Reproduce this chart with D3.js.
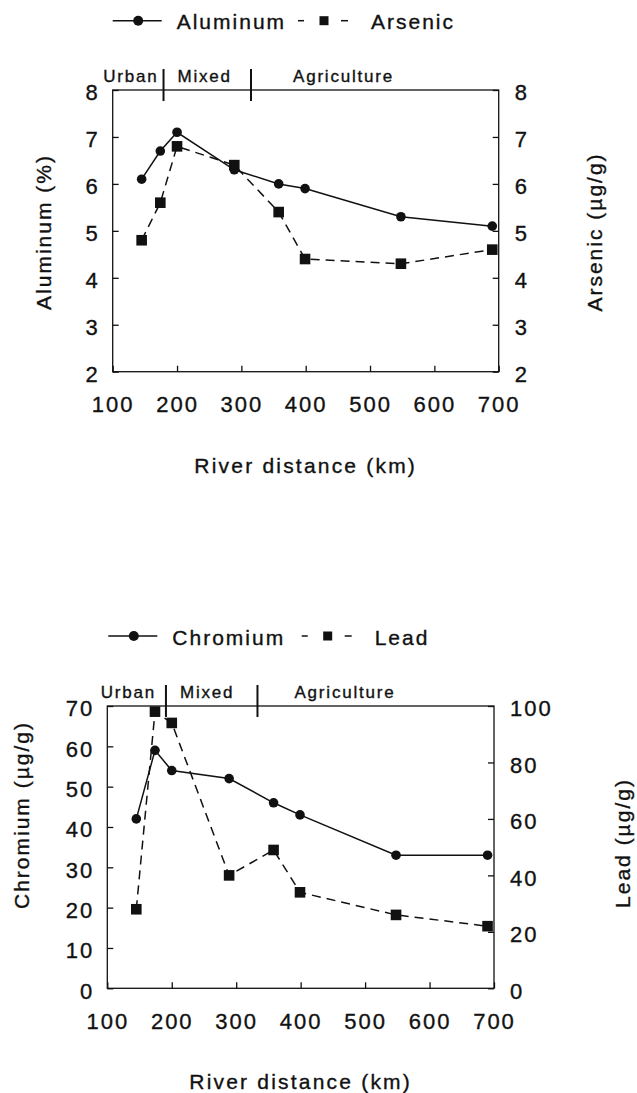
<!DOCTYPE html>
<html>
<head>
<meta charset="utf-8">
<script src="https://cdn.jsdelivr.net/npm/d3@7"></script>
<style>
  body { margin: 0; background: #fff; }
  text { font-family: "Liberation Sans", Arial, sans-serif; fill: #111; stroke: #111; stroke-width: 0.35px; }
</style>
</head>
<body>
<div id="chart"></div>
<script>
// values
var distance = [145, 174, 200, 289, 358, 399, 548, 690];
var aluminum = [6.1, 6.7, 7.1, 6.3, 6.0, 5.9, 5.3, 5.1];
var arsenic  = [4.8, 5.6, 6.8, 6.4, 5.4, 4.4, 4.3, 4.6];
var chromium = [42, 59, 54, 52, 46, 43, 33, 33];
var lead     = [28, 98, 94, 40, 49, 34, 26, 22];

var xTicks  = [100, 200, 300, 400, 500, 600, 700];
var alTicks = [2, 3, 4, 5, 6, 7, 8];
var asTicks = [2, 3, 4, 5, 6, 7, 8];
var crTicks = [0, 10, 20, 30, 40, 50, 60, 70];
var pbTicks = [0, 20, 40, 60, 80, 100];

var zones = ["Urban", "Mixed", "Agriculture"];
var zoneBreaksTop = [179, 315];
var zoneBreaksBottom = [191, 333];

var svg = d3.select("#chart")
  .append("svg")
    .attr("width", 637)
    .attr("height", 1093);

// one panel = box, two y axes, two series, legend and land use zones
function drawPanel(p) {
    var x = d3.scaleLinear().domain([100, 700]).range([p.left, p.right]);
    var yL = d3.scaleLinear().domain(p.leftDomain).range([p.bottom, p.top]);
    var yR = d3.scaleLinear().domain(p.rightDomain).range([p.bottom, p.top]);
    var fmt = d3.format("d");

    var g = svg.append("g");

    // axes, ticks point inward
    var ax = g.append("g")
        .attr("transform", "translate(0," + p.bottom + ")")
        .call(d3.axisBottom(x).tickValues(xTicks).tickFormat(fmt).tickSizeInner(-6).tickSizeOuter(0).tickPadding(25));
    var al = g.append("g")
        .attr("transform", "translate(" + p.left + ",0)")
        .call(d3.axisLeft(yL).tickValues(p.leftTicks).tickFormat(fmt).tickSizeInner(-6).tickSizeOuter(0).tickPadding(13));
    var ar = g.append("g")
        .attr("transform", "translate(" + p.right + ",0)")
        .call(d3.axisRight(yR).tickValues(p.rightTicks).tickFormat(fmt).tickSizeInner(-6).tickSizeOuter(0).tickPadding(16));

    [ax, al, ar].forEach(function(a) {
        a.select(".domain").remove();
        a.selectAll("line").attr("stroke", "#111").attr("stroke-width", 1.3);
        a.selectAll("text")
            .attr("fill", "#111")
            .style("font-size", "22px")
            .style("letter-spacing", "2px")
            .style("font-family", "'Liberation Sans', Arial, sans-serif");
    });
    al.selectAll("text").attr("dy", "0.45em");
    ar.selectAll("text").attr("dy", "0.45em");

    // frame
    g.append("rect")
        .attr("x", p.left).attr("y", p.top)
        .attr("width", p.right - p.left).attr("height", p.bottom - p.top)
        .attr("fill", "none").attr("stroke", "#111").attr("stroke-width", 1.3);

    // zone dividers and labels
    p.breaks.forEach(function(b) {
        g.append("line")
            .attr("x1", x(b)).attr("x2", x(b))
            .attr("y1", p.top - 21).attr("y2", p.top + 11)
            .attr("stroke", "#111").attr("stroke-width", 2);
    });
    var zoneX = [x(p.breaks[0]) - p.zoneOff[0], x(p.breaks[0]) + p.zoneOff[1], x(p.breaks[1]) + p.zoneOff[2]];
    zones.forEach(function(z, i) {
        g.append("text")
            .attr("x", zoneX[i])
            .attr("y", p.top - 8.5)
            .attr("text-anchor", i == 0 ? "end" : "start")
            .style("font-size", "17px")
            .style("letter-spacing", "1.8px")
            .text(z);
    });

    // lines
    var lineL = d3.line().x(function(d, i) { return x(distance[i]); }).y(function(d) { return yL(d); });
    var lineR = d3.line().x(function(d, i) { return x(distance[i]); }).y(function(d) { return yR(d); });

    g.append("path")
        .datum(p.rightSeries)
        .attr("d", lineR)
        .attr("fill", "none").attr("stroke", "#111").attr("stroke-width", 1.5)
        .attr("stroke-dasharray", "9,6");
    g.append("path")
        .datum(p.leftSeries)
        .attr("d", lineL)
        .attr("fill", "none").attr("stroke", "#111").attr("stroke-width", 1.5);

    g.selectAll("rect.sq")
        .data(p.rightSeries)
        .enter().append("rect")
        .attr("class", "sq")
        .attr("x", function(d, i) { return x(distance[i]) - 5.3; })
        .attr("y", function(d) { return yR(d) - 5.3; })
        .attr("width", 10.6).attr("height", 10.6)
        .attr("fill", "#111");
    g.selectAll("circle.pt")
        .data(p.leftSeries)
        .enter().append("circle")
        .attr("class", "pt")
        .attr("cx", function(d, i) { return x(distance[i]); })
        .attr("cy", function(d) { return yL(d); })
        .attr("r", 4.8)
        .attr("fill", "#111");

    // axis titles
    g.append("text")
        .attr("x", (p.left + p.right) / 2)
        .attr("y", p.bottom + 101)
        .attr("text-anchor", "middle")
        .style("font-size", "21px").style("letter-spacing", "2.2px")
        .text("River distance (km)");
    g.append("text")
        .attr("transform", "translate(" + p.leftTitle[0] + "," + p.leftTitle[1] + ")rotate(-90)")
        .attr("text-anchor", "middle")
        .style("font-size", "21px").style("letter-spacing", "2px")
        .text(p.leftLabel);
    g.append("text")
        .attr("transform", "translate(" + p.rightTitle[0] + "," + p.rightTitle[1] + ")rotate(-90)")
        .attr("text-anchor", "middle")
        .style("font-size", "21px").style("letter-spacing", "2px")
        .text(p.rightLabel);

    // legend
    var lg = p.legend;
    g.append("line")
        .attr("x1", lg.x).attr("x2", lg.x + 49).attr("y1", lg.y).attr("y2", lg.y)
        .attr("stroke", "#111").attr("stroke-width", 1.5);
    g.append("circle")
        .attr("cx", lg.x + 25.5).attr("cy", lg.y).attr("r", 5).attr("fill", "#111");
    g.append("text")
        .attr("x", lg.x + 64).attr("y", lg.y + 8.5)
        .style("font-size", "21px").style("letter-spacing", "2px")
        .text(p.leftName);
    [[lg.x2, lg.x2 + 6], [lg.x2 + 43, lg.x2 + 50]].forEach(function(s) {
        g.append("line")
            .attr("x1", s[0]).attr("x2", s[1]).attr("y1", lg.y).attr("y2", lg.y)
            .attr("stroke", "#111").attr("stroke-width", 1.5);
    });
    g.append("rect")
        .attr("x", lg.x2 + 26 - 4.5).attr("y", lg.y - 4.5)
        .attr("width", 9).attr("height", 9).attr("fill", "#111");
    g.append("text")
        .attr("x", lg.x2 + 73).attr("y", lg.y + 8.5)
        .style("font-size", "21px").style("letter-spacing", "2px")
        .text(p.rightName);
}

drawPanel({
    left: 112.7, right: 498.7, top: 90, bottom: 371.7,
    leftDomain: [2, 8], rightDomain: [2, 8],
    leftTicks: alTicks, rightTicks: asTicks,
    leftSeries: aluminum, rightSeries: arsenic,
    leftName: "Aluminum", rightName: "Arsenic",
    leftLabel: "Aluminum (%)", rightLabel: "Arsenic (µg/g)",
    leftTitle: [51, 232], rightTitle: [602, 232],
    breaks: zoneBreaksTop, zoneOff: [5, 14, 42],
    legend: {x: 112.7, x2: 298, y: 20.7}
});

drawPanel({
    left: 107.3, right: 494, top: 706, bottom: 988.3,
    leftDomain: [0, 70], rightDomain: [0, 100],
    leftTicks: crTicks, rightTicks: pbTicks,
    leftSeries: chromium, rightSeries: lead,
    leftName: "Chromium", rightName: "Lead",
    leftLabel: "Chromium (µg/g)", rightLabel: "Lead (µg/g)",
    leftTitle: [29, 815], rightTitle: [630, 843],
    breaks: zoneBreaksBottom, zoneOff: [10, 14, 37],
    legend: {x: 108.3, x2: 301.7, y: 636}
});
</script>
</body>
</html>
